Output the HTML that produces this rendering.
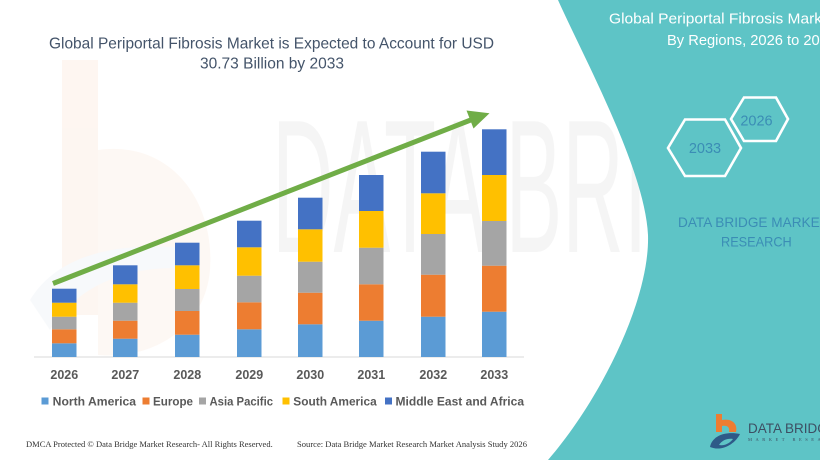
<!DOCTYPE html>
<html>
<head>
<meta charset="utf-8">
<style>
html,body{margin:0;padding:0;background:#fff;}
svg{display:block;}
</style>
</head>
<body>
<svg width="820" height="460" viewBox="0 0 820 460" xmlns="http://www.w3.org/2000/svg">
  <rect x="0" y="0" width="820" height="460" fill="#ffffff"/>

  <!-- faint watermarks -->
  <g opacity="0.5">
    <rect x="62" y="60" width="36" height="255" fill="#fdeee4"/>
    <path d="M98 150 C170 140 215 200 210 270 C205 330 150 360 98 355 Z" fill="#fdf2ea"/>
    <path d="M30 300 C60 250 130 240 200 250 L200 270 C140 262 80 280 50 330 Z" fill="#f1f4f8"/>
  </g>
  <text x="272" y="252" font-family="Liberation Sans, sans-serif" font-size="190" fill="#000" opacity="0.035" textLength="560" lengthAdjust="spacingAndGlyphs">DATA BRIDGE</text>

  <!-- teal panel -->
  <path fill="#5EC4C6" d="M558,0 C585,60 645,170 648,235 C650,300 600,400 548,460 L820,460 L820,0 Z"/>

  <!-- left title -->
  <text x="49" y="48.5" font-family="Liberation Sans, sans-serif" font-size="16" fill="#44546A" textLength="445" lengthAdjust="spacingAndGlyphs">Global Periportal Fibrosis Market is Expected to Account for USD</text>
  <text x="200" y="68.5" font-family="Liberation Sans, sans-serif" font-size="16" fill="#44546A" textLength="144" lengthAdjust="spacingAndGlyphs">30.73 Billion by 2033</text>

  <!-- axis -->
  <line x1="34" y1="357" x2="524" y2="357" stroke="#d9d9d9" stroke-width="1"/>

  <!-- bars -->
  <g>
    <rect x="52" y="343.3" width="24.5" height="13.7" fill="#5B9BD5"/>
    <rect x="52" y="329.3" width="24.5" height="14" fill="#ED7D31"/>
    <rect x="52" y="316.7" width="24.5" height="12.6" fill="#A5A5A5"/>
    <rect x="52" y="302.7" width="24.5" height="14" fill="#FFC000"/>
    <rect x="52" y="288.7" width="24.5" height="14" fill="#4472C4"/>

    <rect x="113" y="338.7" width="24.5" height="18.3" fill="#5B9BD5"/>
    <rect x="113" y="320.7" width="24.5" height="18" fill="#ED7D31"/>
    <rect x="113" y="302.7" width="24.5" height="18" fill="#A5A5A5"/>
    <rect x="113" y="284.3" width="24.5" height="18.4" fill="#FFC000"/>
    <rect x="113" y="265.3" width="24.5" height="19" fill="#4472C4"/>

    <rect x="175" y="334.7" width="24.5" height="22.3" fill="#5B9BD5"/>
    <rect x="175" y="311" width="24.5" height="23.7" fill="#ED7D31"/>
    <rect x="175" y="289" width="24.5" height="22" fill="#A5A5A5"/>
    <rect x="175" y="265.3" width="24.5" height="23.7" fill="#FFC000"/>
    <rect x="175" y="242.7" width="24.5" height="22.6" fill="#4472C4"/>

    <rect x="237" y="329.3" width="24.5" height="27.7" fill="#5B9BD5"/>
    <rect x="237" y="302.3" width="24.5" height="27" fill="#ED7D31"/>
    <rect x="237" y="275.7" width="24.5" height="26.6" fill="#A5A5A5"/>
    <rect x="237" y="247.3" width="24.5" height="28.4" fill="#FFC000"/>
    <rect x="237" y="220.7" width="24.5" height="26.6" fill="#4472C4"/>

    <rect x="298" y="324.3" width="24.5" height="32.7" fill="#5B9BD5"/>
    <rect x="298" y="292.7" width="24.5" height="31.6" fill="#ED7D31"/>
    <rect x="298" y="261.7" width="24.5" height="31" fill="#A5A5A5"/>
    <rect x="298" y="229.3" width="24.5" height="32.4" fill="#FFC000"/>
    <rect x="298" y="197.7" width="24.5" height="31.6" fill="#4472C4"/>

    <rect x="359" y="320.7" width="24.5" height="36.3" fill="#5B9BD5"/>
    <rect x="359" y="284.3" width="24.5" height="36.4" fill="#ED7D31"/>
    <rect x="359" y="247.7" width="24.5" height="36.6" fill="#A5A5A5"/>
    <rect x="359" y="211" width="24.5" height="36.7" fill="#FFC000"/>
    <rect x="359" y="175" width="24.5" height="36" fill="#4472C4"/>

    <rect x="421" y="316.7" width="24.5" height="40.3" fill="#5B9BD5"/>
    <rect x="421" y="274.7" width="24.5" height="42" fill="#ED7D31"/>
    <rect x="421" y="234" width="24.5" height="40.7" fill="#A5A5A5"/>
    <rect x="421" y="193.3" width="24.5" height="40.7" fill="#FFC000"/>
    <rect x="421" y="151.7" width="24.5" height="41.6" fill="#4472C4"/>

    <rect x="482" y="311.7" width="24.5" height="45.3" fill="#5B9BD5"/>
    <rect x="482" y="265.7" width="24.5" height="46" fill="#ED7D31"/>
    <rect x="482" y="221" width="24.5" height="44.7" fill="#A5A5A5"/>
    <rect x="482" y="175" width="24.5" height="46" fill="#FFC000"/>
    <rect x="482" y="129.3" width="24.5" height="45.7" fill="#4472C4"/>
  </g>

  <!-- arrow -->
  <line x1="53" y1="283.5" x2="472" y2="119.5" stroke="#70AD47" stroke-width="5"/>
  <polygon points="489.5,113.3 466.5,110.5 473.5,128.5" fill="#70AD47"/>

  <!-- year labels -->
  <g font-family="Liberation Sans, sans-serif" font-size="12.5" font-weight="bold" fill="#595959" text-anchor="middle">
    <text x="64.3" y="379">2026</text>
    <text x="125.3" y="379">2027</text>
    <text x="187.3" y="379">2028</text>
    <text x="249.3" y="379">2029</text>
    <text x="310.3" y="379">2030</text>
    <text x="371.3" y="379">2031</text>
    <text x="433.3" y="379">2032</text>
    <text x="494.3" y="379">2033</text>
  </g>

  <!-- legend -->
  <g font-family="Liberation Sans, sans-serif" font-size="12" font-weight="bold" fill="#595959">
    <rect x="41.5" y="397.5" width="7" height="7" fill="#5B9BD5"/>
    <text x="52.7" y="405.3" textLength="83.3" lengthAdjust="spacingAndGlyphs">North America</text>
    <rect x="142.5" y="397.5" width="7" height="7" fill="#ED7D31"/>
    <text x="153" y="405.3" textLength="40" lengthAdjust="spacingAndGlyphs">Europe</text>
    <rect x="199" y="397.5" width="7" height="7" fill="#A5A5A5"/>
    <text x="209.5" y="405.3" textLength="63.5" lengthAdjust="spacingAndGlyphs">Asia Pacific</text>
    <rect x="282.5" y="397.5" width="7" height="7" fill="#FFC000"/>
    <text x="293.3" y="405.3" textLength="83.4" lengthAdjust="spacingAndGlyphs">South America</text>
    <rect x="385" y="397.5" width="7" height="7" fill="#4472C4"/>
    <text x="395.5" y="405.3" textLength="128.5" lengthAdjust="spacingAndGlyphs">Middle East and Africa</text>
  </g>

  <!-- footer -->
  <g font-family="Liberation Serif, serif" font-size="8.5" fill="#333333">
    <text x="26" y="447" textLength="246.7" lengthAdjust="spacingAndGlyphs">DMCA Protected © Data Bridge Market Research-  All Rights Reserved.</text>
    <text x="297" y="447" textLength="230" lengthAdjust="spacingAndGlyphs">Source: Data Bridge Market Research  Market Analysis Study 2026</text>
  </g>

  <!-- right header -->
  <g font-family="Liberation Sans, sans-serif" font-size="15" fill="#ffffff">
    <text x="609" y="23.5" textLength="226" lengthAdjust="spacingAndGlyphs">Global Periportal Fibrosis Market</text>
    <text x="667" y="45" textLength="169" lengthAdjust="spacingAndGlyphs">By Regions, 2026 to 2033</text>
  </g>

  <!-- hexagons -->
  <polygon points="731,119 744,97.5 776,97.5 788,119 776,141 744,141" fill="none" stroke="#ffffff" stroke-width="2.6"/>
  <polygon points="668,148 685,119.5 725,119.5 741,148 725,176 685,176" fill="none" stroke="#ffffff" stroke-width="2.6"/>
  <g font-family="Liberation Sans, sans-serif" font-size="14.5" fill="#3B8DB5" text-anchor="middle">
    <text x="756.5" y="125.5">2026</text>
    <text x="705" y="153">2033</text>
  </g>

  <!-- DATA BRIDGE MARKET RESEARCH -->
  <g font-family="Liberation Sans, sans-serif" font-size="14" fill="#3B8DB5">
    <text x="678" y="227" textLength="150" lengthAdjust="spacingAndGlyphs">DATA BRIDGE MARKET</text>
    <text x="721" y="246.5" textLength="70.7" lengthAdjust="spacingAndGlyphs">RESEARCH</text>
  </g>

  <!-- bottom logo -->
  <g>
    <rect x="716" y="414" width="6" height="18" fill="#ED7D31"/>
    <path d="M722 420 C732 418 738 424 736 432 L729 432 C730 427 727 425 722 426 Z" fill="#ED7D31"/>
    <path d="M710 447 C712 436 725 431 740 434 C735 444 722 452 710 447 Z" fill="#2E5A88"/>
    <path d="M719 445 C722 440 728 438 733 439 C730 443 725 446 719 445 Z" fill="#5EC4C6"/>
    <text x="748" y="433" font-family="Liberation Sans, sans-serif" font-size="13.5" fill="#3D4F63">DATA BRIDGE</text>
    <text x="748" y="441" font-family="Liberation Serif, serif" font-size="4.5" fill="#3D4F63" letter-spacing="3.5">MARKET RESEARCH</text>
  </g>
</svg>
</body>
</html>
